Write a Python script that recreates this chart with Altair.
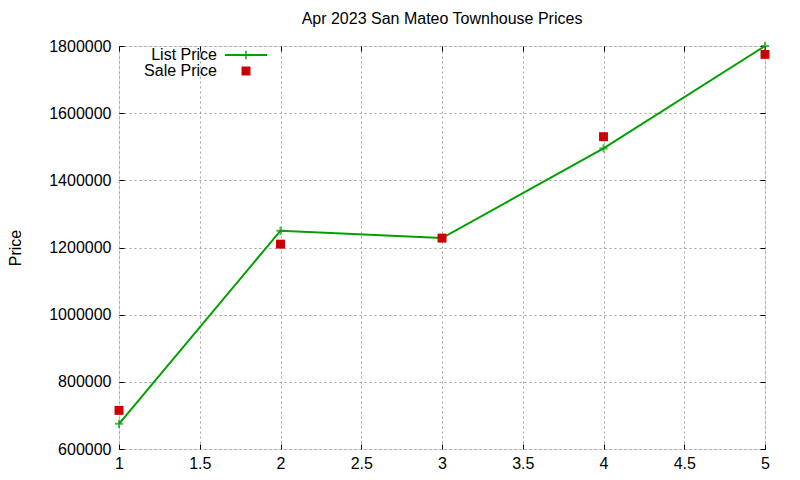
import pandas as pd
import altair as alt

months = [1, 2, 3, 4, 5]
list_price = [675000, 1250000, 1228000, 1495000, 1800000]
sale_price = [715000, 1210000, 1228000, 1530000, 1775000]

x_ticks = [1, 1.5, 2, 2.5, 3, 3.5, 4, 4.5, 5]
y_ticks = [600000, 800000, 1000000, 1200000, 1400000, 1600000, 1800000]

green = "#00a000"
red = "#cc0000"
font = "Liberation Sans"

df = pd.DataFrame({"x": months, "list": list_price, "sale": sale_price})

xs = alt.Scale(domain=[1, 5], nice=False, zero=False)
ys = alt.Scale(domain=[600000, 1800000], nice=False, zero=False)

grid = dict(grid=True, gridColor="#a0a0a0", gridDash=[2, 3], gridWidth=1, ticks=False,
	labelFont=font, labelFontSize=16, labelColor="black", labelFlush=False, domain=False)

line = alt.Chart(df).mark_line(color=green, strokeWidth=2).encode(
	x=alt.X("x:Q", scale=xs, axis=alt.Axis(values=x_ticks, title=None, format="~g", labelPadding=6, **grid)),
	y=alt.Y("list:Q", scale=ys, axis=alt.Axis(values=y_ticks, title="Price", titleFont=font, titleFontSize=16,
		titleFontWeight="normal", titleColor="black", titlePadding=25, labelPadding=8, format="d", **grid)),
)

cross = "M-1,0L1,0M0,-1L0,1"
list_pts = alt.Chart(df).mark_point(shape=cross, color=green, size=70, strokeWidth=2, filled=False).encode(
	x=alt.X("x:Q", scale=xs, axis=None), y=alt.Y("list:Q", scale=ys, axis=None))
sale_pts = alt.Chart(df).mark_square(color=red, size=80, opacity=1).encode(
	x=alt.X("x:Q", scale=xs, axis=None), y=alt.Y("sale:Q", scale=ys, axis=None))

# inward ticks on all four sides
tick = dict(labels=False, grid=False, ticks=True, tickSize=5, tickColor="black", offset=-5, title=None)
ticks_a = alt.Chart(df).mark_point(opacity=0).encode(
	x=alt.X("x:Q", scale=xs, axis=alt.Axis(values=x_ticks, orient="bottom", domain=False, **tick)),
	y=alt.Y("list:Q", scale=ys, axis=alt.Axis(values=y_ticks, orient="left", domain=False, **tick)))
ticks_b = alt.Chart(df).mark_point(opacity=0).encode(
	x=alt.X("x:Q", scale=xs, axis=alt.Axis(values=x_ticks, orient="top", domain=False, **tick)),
	y=alt.Y("list:Q", scale=ys, axis=alt.Axis(values=y_ticks, orient="right", domain=False, **tick)))

# key in the top-left corner
key = pd.DataFrame({"a": [0]})
key_text = alt.Chart(key).mark_text(align="right", baseline="middle", font=font, fontSize=16)
key_list_t = key_text.encode(x=alt.value(98), y=alt.value(9), text=alt.value("List Price"))
key_sale_t = key_text.encode(x=alt.value(98), y=alt.value(25), text=alt.value("Sale Price"))
key_line = alt.Chart(key).mark_rule(color=green, strokeWidth=2).encode(
	x=alt.value(106), x2=alt.value(148), y=alt.value(9))
key_cross = alt.Chart(key).mark_point(shape=cross, color=green, size=70, strokeWidth=2, filled=False).encode(
	x=alt.value(127), y=alt.value(9))
key_sq = alt.Chart(key).mark_square(color=red, size=80, opacity=1).encode(
	x=alt.value(127), y=alt.value(25))

chart = alt.layer(
	line, ticks_a, ticks_b, list_pts, sale_pts,
	key_list_t, key_sale_t, key_line, key_cross, key_sq,
).resolve_axis(x="independent", y="independent").properties(
	width=646, height=403,
	autosize=alt.AutoSizeParams(type="none"),
	padding={"left": 111, "top": 38, "right": 27, "bottom": 31},
	title=alt.TitleParams("Apr 2023 San Mateo Townhouse Prices", font=font, fontSize=16,
		fontWeight="normal", color="black", anchor="middle", offset=11),
).configure_view(stroke="black", strokeWidth=1.5).configure(background="white")

chart.save("out.html", embed_options={"renderer": "svg", "actions": False})
